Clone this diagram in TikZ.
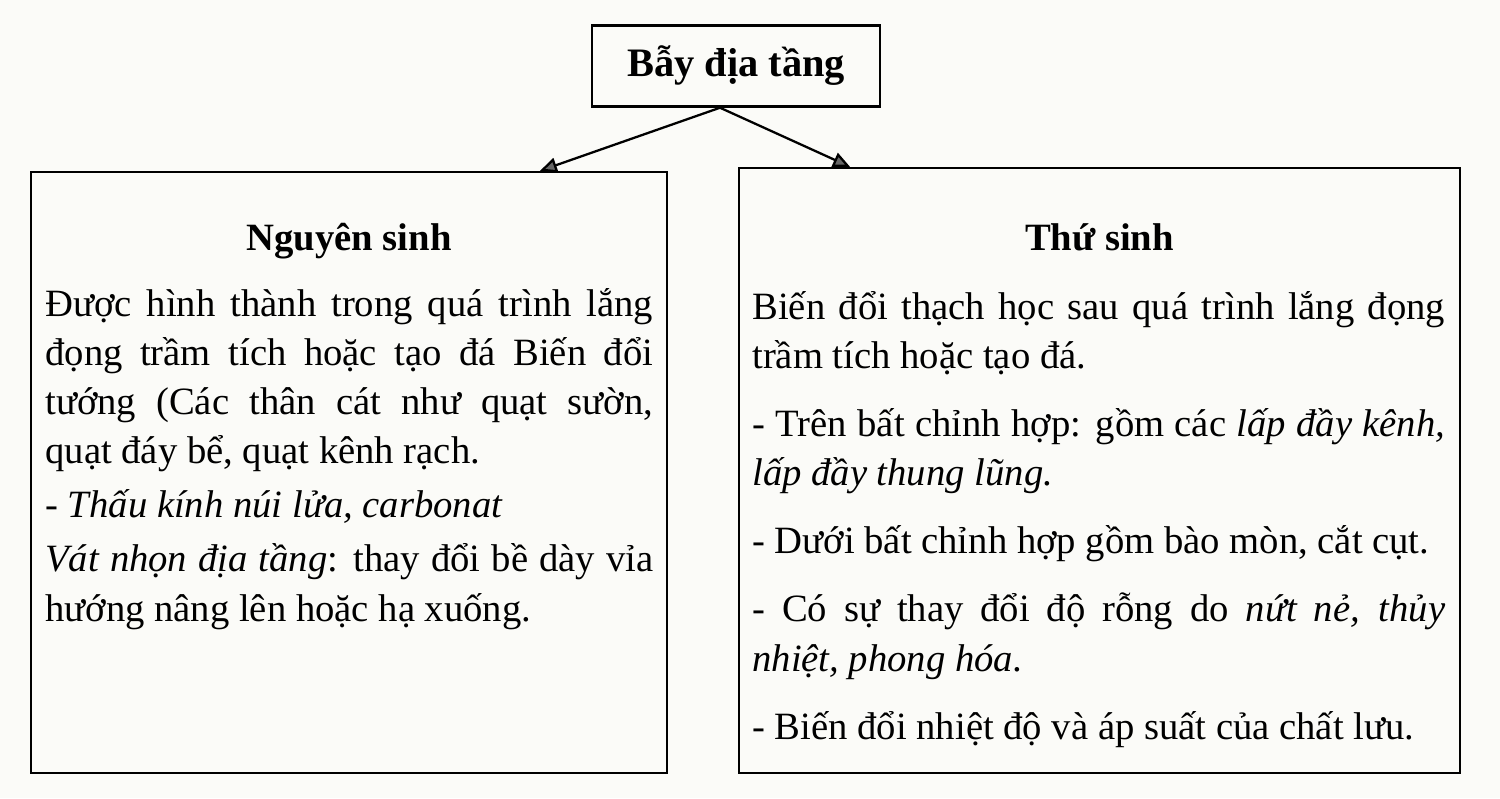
\documentclass[tikz,border=0pt]{standalone}
\usepackage{fontspec}
\setmainfont{Liberation Serif}
\usetikzlibrary{arrows.meta}
\definecolor{paper}{RGB}{251,251,248}

\begin{document}
\begin{tikzpicture}[x=0.02cm, y=-0.02cm,
    frame/.style={draw, line width=1.4pt, inner sep=0pt},
    heading/.style={font=\fontsize{22}{26}\selectfont\bfseries, inner sep=0pt, anchor=base},
    body/.style={font=\fontsize{22}{28}\selectfont, inner sep=0pt, anchor=base west, align=justify},
    link/.style={line width=1.3pt, -{Triangle[length=0.34cm, width=0.3cm, fill=black!60]}}]
  \fill[paper] (0,0) rectangle (1500,798);
  \useasboundingbox (0,0) rectangle (1500,798);

  % boxes
  \node[frame, minimum width=5.76cm, minimum height=1.62cm, font=\fontsize{23}{27}\selectfont\bfseries] (bay) at (736,66) {Bẫy địa tầng};
  \node[frame, minimum width=12.72cm, minimum height=12.02cm] (nguyen) at (349,472.5) {};
  \node[frame, minimum width=14.42cm, minimum height=12.1cm] (thu) at (1099.5,470.5) {};

  % arrows
  \coordinate (fork) at ([xshift=-0.32cm]bay.south);
  \coordinate (tipnguyen) at ([xshift=3.82cm]nguyen.north);
  \coordinate (tipthu) at ([xshift=-4.99cm]thu.north);
  \draw[link] (fork) -- (tipnguyen);
  \draw[link] (fork) -- (tipthu);

  % left column
  \node[heading] (nguyentitle) at (349,250) {Nguyên sinh};
  \node[body, text width=12.16cm] (nguyentext) at (45,316) {\setlength{\parskip}{2.8pt}\hyphenpenalty=10000 \tolerance=9999 \hbadness=10000
    Được hình thành trong quá trình lắng\linebreak
    đọng trầm tích hoặc tạo đá Biến đổi\linebreak
    tướng (Các thân cát như quạt sườn,\linebreak
    quạt đáy bể, quạt kênh rạch.\par
    - \textit{Thấu kính núi lửa, carbonat}\par
    \textit{Vát nhọn địa tầng}: thay đổi bề dày vỉa\linebreak
    hướng nâng lên hoặc hạ xuống.};

  % right column
  \node[heading] (thutitle) at (1099.5,250) {Thứ sinh};
  \node[body, text width=13.86cm] (thutext) at (752,319) {\setlength{\parskip}{10.8pt}\hyphenpenalty=10000 \tolerance=9999 \hbadness=10000
    Biến đổi thạch học sau quá trình lắng đọng\linebreak
    trầm tích hoặc tạo đá.\par
    - Trên bất chỉnh hợp: gồm các \textit{lấp đầy kênh,}\linebreak
    \textit{lấp đầy thung lũng.}\par
    - Dưới bất chỉnh hợp gồm bào mòn, cắt cụt.\par
    - Có sự thay đổi độ rỗng do \textit{nứt nẻ, thủy}\linebreak
    \textit{nhiệt, phong hóa.}\par
    - Biến đổi nhiệt độ và áp suất của chất lưu.};
\end{tikzpicture}
\end{document}
